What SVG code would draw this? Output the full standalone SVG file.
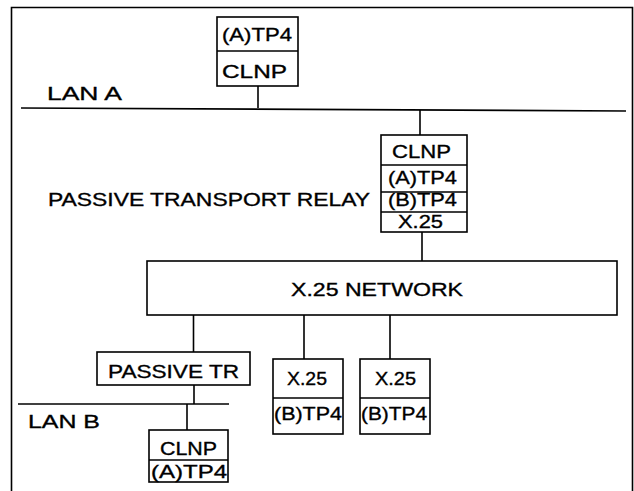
<svg xmlns="http://www.w3.org/2000/svg" width="634" height="491" viewBox="0 0 634 491">
<style>
.b{fill:#fff;stroke:#000;stroke-width:1.6}
.l{fill:none;stroke:#000;stroke-width:1.6}
.t{font-family:"Liberation Sans",Arial,sans-serif;font-size:19px;fill:#000;stroke:#000;stroke-width:0.35}
</style>
<rect width="634" height="491" fill="#fff"/>
<g id="frame">
<path class="l" d="M11.5 491 V7.5 H632.5 V491"/>
</g>
<g id="connectors">
<path class="l" d="M21 108 L626 111"/>
<path class="l" d="M258 86 V108"/>
<path class="l" d="M420 110 V135"/>
<path class="l" d="M422 232 V261"/>
<path class="l" d="M193.5 315 V352"/>
<path class="l" d="M304 315 V359"/>
<path class="l" d="M390 315 V359"/>
<path class="l" d="M194 385 V404"/>
<path class="l" d="M18 404 H229"/>
<path class="l" d="M187 404 V430"/>
</g>
<g id="lanA">
<text class="t" x="47" y="100" textLength="75" lengthAdjust="spacingAndGlyphs">LAN A</text>
</g>
<g id="hostA">
<rect class="b" x="217" y="17" width="81" height="69"/>
<path class="l" d="M217 51 H298"/>
<text class="t" x="222" y="41" font-size="17" textLength="70" lengthAdjust="spacingAndGlyphs">(A)TP4</text>
<text class="t" x="222" y="78" font-size="20" textLength="65" lengthAdjust="spacingAndGlyphs">CLNP</text>
</g>
<g id="relayLabel">
<text class="t" x="48" y="206" font-size="20" textLength="322" lengthAdjust="spacingAndGlyphs">PASSIVE TRANSPORT RELAY</text>
</g>
<g id="relay">
<rect class="b" x="381" y="135" width="86" height="97"/>
<path class="l" d="M381 165 H467 M381 192 H467 M381 212 H467"/>
<text class="t" x="392" y="158" font-size="20" textLength="59" lengthAdjust="spacingAndGlyphs">CLNP</text>
<text class="t" x="388" y="184" font-size="19" textLength="69" lengthAdjust="spacingAndGlyphs">(A)TP4</text>
<text class="t" x="388" y="206" font-size="19" textLength="69" lengthAdjust="spacingAndGlyphs">(B)TP4</text>
<text class="t" x="398" y="227.5" font-size="19" textLength="45" lengthAdjust="spacingAndGlyphs">X.25</text>
</g>
<g id="x25net">
<rect class="b" x="147" y="261" width="470" height="54"/>
<text class="t" x="291" y="296" font-size="21" textLength="172" lengthAdjust="spacingAndGlyphs">X.25 NETWORK</text>
</g>
<g id="passiveTR">
<rect class="b" x="97" y="352" width="153" height="33"/>
<text class="t" x="108" y="378" font-size="20" textLength="131" lengthAdjust="spacingAndGlyphs">PASSIVE TR</text>
</g>
<g id="lanB">
<text class="t" x="28" y="428" font-size="19" textLength="72" lengthAdjust="spacingAndGlyphs">LAN B</text>
</g>
<g id="hostB">
<rect class="b" x="149" y="430" width="79" height="52"/>
<path class="l" d="M149 460 H228"/>
<text class="t" x="160" y="455" font-size="20" textLength="57" lengthAdjust="spacingAndGlyphs">CLNP</text>
<text class="t" x="151" y="477.5" font-size="18" textLength="76" lengthAdjust="spacingAndGlyphs">(A)TP4</text>
</g>
<g id="x25host1">
<rect class="b" x="273" y="359" width="70" height="75"/>
<path class="l" d="M273 398 H343"/>
<text class="t" x="287" y="385" font-size="19" textLength="40" lengthAdjust="spacingAndGlyphs">X.25</text>
<text class="t" x="274" y="420" font-size="19" textLength="68" lengthAdjust="spacingAndGlyphs">(B)TP4</text>
</g>
<g id="x25host2">
<rect class="b" x="360" y="359" width="70" height="75"/>
<path class="l" d="M360 398 H430"/>
<text class="t" x="375" y="385" font-size="19" textLength="41" lengthAdjust="spacingAndGlyphs">X.25</text>
<text class="t" x="361" y="420" font-size="19" textLength="66" lengthAdjust="spacingAndGlyphs">(B)TP4</text>
</g>
</svg>
